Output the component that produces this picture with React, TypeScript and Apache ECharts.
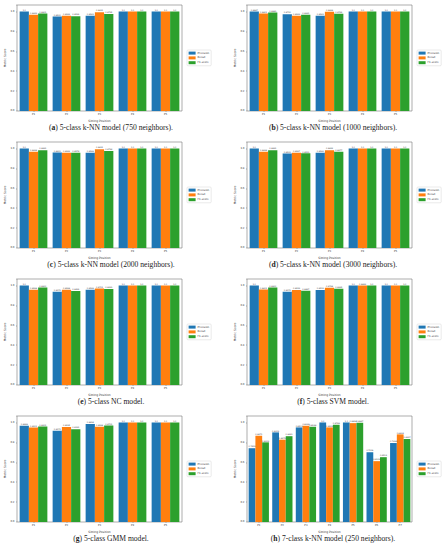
import React, { useEffect, useRef } from "react";
import * as echarts from "echarts";

const seriesNames = ["Precision", "Recall", "F1-score"];
const categories5 = ["P1", "P2", "P3", "P4", "P5"];
const categories7 = ["P1", "P2", "P3", "P4", "P5", "P6", "P7"];
const yTicks = [0, 0.2, 0.4, 0.6, 0.8, 1.0];

// (a) 750 neighbors
const aPrecision = [1.0, 0.95, 0.9563, 1.0, 1.0];
const aRecall = [0.9663, 0.9562, 0.9931, 1.0, 1.0];
const aF1 = [0.9801, 0.9532, 0.9735, 1.0, 1.0];
// (b) 1000 neighbors
const bPrecision = [0.9987, 0.9731, 0.9563, 1.0, 1.0];
const bRecall = [0.9801, 0.9563, 0.9968, 1.0, 1.0];
const bF1 = [0.9893, 0.9661, 0.9762, 1.0, 1.0];
// (c) 2000 neighbors
const cPrecision = [1.0, 0.9601, 0.9568, 1.0, 1.0];
const cRecall = [0.9668, 0.9562, 0.9931, 1.0, 1.0];
const cF1 = [0.9831, 0.9574, 0.9736, 1.0, 1.0];
// (d) 3000 neighbors
const dPrecision = [1.0, 0.9502, 0.9566, 1.0, 1.0];
const dRecall = [0.9668, 0.9567, 0.9832, 1.0, 1.0];
const dF1 = [0.9831, 0.9513, 0.9677, 1.0, 1.0];
// (e) NC
const ePrecision = [1.0, 0.9372, 0.9568, 1.0, 1.0];
const eRecall = [0.9568, 0.9568, 0.9701, 1.0, 1.0];
const eF1 = [0.98, 0.9432, 0.9633, 1.0, 1.0];
// (f) SVM
const fPrecision = [1.0, 0.9372, 0.9533, 1.0, 1.0];
const fRecall = [0.9601, 0.9533, 0.9768, 0.9993, 1.0];
const fF1 = [0.98, 0.9467, 0.9665, 1.0, 1.0];
// (g) GMM
const gPrecision = [0.9668, 0.9171, 0.9834, 1.0, 1.0];
const gRecall = [0.9501, 0.9535, 0.9568, 1.0, 1.0];
const gF1 = [0.9601, 0.9331, 0.9701, 1.0, 1.0];
// (h) 7-class 250 neighbors
const hPrecision = [0.7412, 0.9003, 0.9502, 1.0, 1.0, 0.7009, 0.7934];
const hRecall = [0.8671, 0.8272, 0.9668, 0.9502, 0.9934, 0.6113, 0.8804];
const hF1 = [0.8003, 0.8621, 0.9568, 0.9768, 0.9967, 0.6512, 0.8337];

const captionLetters = ["a", "b", "c", "d", "e", "f", "g", "h"];
const captionTexts = [
  "5-class k-NN model (750 neighbors).",
  "5-class k-NN model (1000 neighbors).",
  "5-class k-NN model (2000 neighbors).",
  "5-class k-NN model (3000 neighbors).",
  "5-class NC model.",
  "5-class SVM model.",
  "5-class GMM model.",
  "7-class k-NN model (250 neighbors).",
];

const panels = [
  { cats: categories5, vals: [aPrecision, aRecall, aF1] },
  { cats: categories5, vals: [bPrecision, bRecall, bF1] },
  { cats: categories5, vals: [cPrecision, cRecall, cF1] },
  { cats: categories5, vals: [dPrecision, dRecall, dF1] },
  { cats: categories5, vals: [ePrecision, eRecall, eF1] },
  { cats: categories5, vals: [fPrecision, fRecall, fF1] },
  { cats: categories5, vals: [gPrecision, gRecall, gF1] },
  { cats: categories7, vals: [hPrecision, hRecall, hF1] },
];

const colors = ["#1f77b4", "#ff7f0e", "#2ca02c"];

export default function App() {
  const ref = useRef<HTMLDivElement>(null);
  useEffect(() => {
    if (!ref.current) return;
    const chart = echarts.init(ref.current, undefined, { renderer: "svg" });
    const colLeft = [17, 247];
    const rowTop = [5, 142, 279, 416];
    const gw = 165;
    const gh = 106;
    const grids: any[] = [];
    const xAxes: any[] = [];
    const yAxes: any[] = [];
    const legends: any[] = [];
    const series: any[] = [];
    const graphics: any[] = [];
    panels.forEach((p, i) => {
      const col = i % 2;
      const row = Math.floor(i / 2);
      const left = colLeft[col];
      const top = rowTop[row];
      grids.push({
        left,
        top,
        width: gw,
        height: gh,
        show: true,
        borderColor: "#777",
        borderWidth: 0.6,
        backgroundColor: "#fff",
      });
      xAxes.push({
        type: "category",
        gridIndex: i,
        data: p.cats,
        name: "Sitting Position",
        nameLocation: "middle",
        nameGap: 8,
        nameTextStyle: { fontSize: 3, color: "#333", fontFamily: "DejaVu Sans" },
        axisLine: { show: false },
        axisTick: { show: true, alignWithLabel: true, length: 1, lineStyle: { color: "#555", width: 0.4 } },
        axisLabel: { fontSize: 2.6, color: "#333", margin: 2, fontFamily: "DejaVu Sans" },
      });
      yAxes.push({
        type: "value",
        gridIndex: i,
        min: 0,
        max: 1.065,
        interval: 0.2,
        name: "Metric Score",
        nameLocation: "middle",
        nameGap: 11,
        nameTextStyle: { fontSize: 3, color: "#333", fontFamily: "DejaVu Sans" },
        splitLine: { show: false },
        axisLine: { show: false },
        axisTick: {
          show: true,
          length: 1,
          lineStyle: { color: "#555", width: 0.4 },
        },
        axisLabel: {
          fontSize: 2.6,
          color: "#333",
          margin: 2.5,
          fontFamily: "DejaVu Sans",
          formatter: (v: number) => (yTicks.some((t) => Math.abs(t - v) < 1e-6) ? v.toFixed(1) : ""),
        },
      });
      legends.push({
        orient: "vertical",
        left: left + gw + 5,
        top: top + gh / 2 - 8,
        itemWidth: 7,
        itemHeight: 3,
        itemGap: 1.8,
        padding: [1.6, 2, 1.6, 1.6],
        borderColor: "#ccc",
        borderWidth: 0.4,
        borderRadius: 1,
        data: seriesNames,
        textStyle: { fontSize: 2.6, color: "#333", padding: [0, 0, 0, -3], fontFamily: "DejaVu Sans" },
        icon: "rect",
      });
      p.vals.forEach((vals, s) => {
        series.push({
          type: "bar",
          name: seriesNames[s],
          xAxisIndex: i,
          yAxisIndex: i,
          data: vals,
          barGap: "0%",
          barCategoryGap: p.cats.length === 7 ? "14%" : "16%",
          itemStyle: { color: colors[s] },
          label: {
            show: true,
            position: "top",
            distance: 0.6,
            fontSize: 2,
            color: "#333",
            fontFamily: "DejaVu Sans",
            formatter: (prm: any) => (prm.value >= 1 ? "1.0" : Number(prm.value).toFixed(4)),
          },
        });
      });
      graphics.push({
        type: "text",
        x: col === 0 ? 111 : 333,
        y: top + gh + 16,
        style: {
          text: "{p|(}{b|" + captionLetters[i] + "}{p|) " + captionTexts[i] + "}",
          align: "center",
          verticalAlign: "middle",
          textAlign: "center",
          textVerticalAlign: "middle",
          rich: {
            p: { fontSize: 7.6, fontFamily: "Liberation Serif", fill: "#222", color: "#222" },
            b: { fontSize: 7.6, fontFamily: "Liberation Serif", fontWeight: "bold", fill: "#222", color: "#222" },
          },
        },
      });
    });
    chart.setOption({
      animation: false,
      backgroundColor: "#fff",
      grid: grids,
      xAxis: xAxes,
      yAxis: yAxes,
      legend: legends,
      series,
      graphic: graphics,
    });
    return () => chart.dispose();
  }, []);
  return (
    <div
      ref={ref}
      style={{ position: "absolute", left: 0, top: 0, width: 442, height: 550 }}
    />
  );
}
